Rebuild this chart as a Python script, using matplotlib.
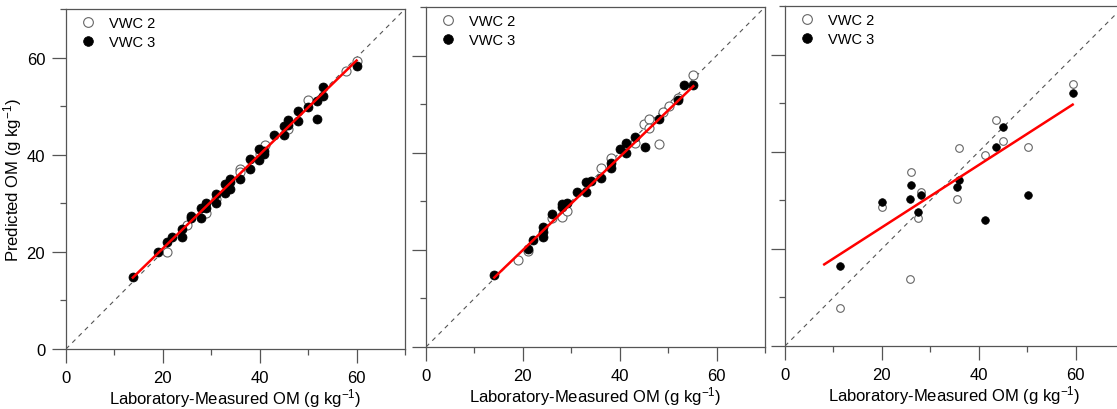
import numpy as np
import matplotlib
matplotlib.use("Agg")
import matplotlib.pyplot as plt

plt.rcParams['font.family'] = ['Liberation Sans', 'DejaVu Sans']
plt.rcParams['mathtext.fontset'] = 'custom'
plt.rcParams['mathtext.rm'] = 'Liberation Sans'
plt.rcParams['mathtext.it'] = 'Liberation Sans:italic'

# --- 資料 ---
# 第一張: VWC 2 (空心) / VWC 3 (實心)
p1_x2 = [20.9, 28.9, 30.9, 35.9, 35.9, 41.0, 45.9, 49.9, 57.9, 60.0, 40.0, 25.0]
p1_y2 = [20.0, 28.0, 30.9, 37.1, 36.4, 42.1, 45.2, 51.2, 57.2, 59.2, 40.2, 25.5]
p1_x3 = [13.8, 18.9, 20.9, 21.9, 23.9, 23.9, 25.9, 25.9, 27.9, 27.9, 28.9, 28.9,
         30.9, 30.9, 32.8, 32.8, 33.9, 33.9, 33.9, 35.9, 37.9, 37.9, 39.9, 39.9,
         40.8, 40.8, 43.0, 45.0, 45.0, 45.9, 45.9, 48.0, 48.0, 49.9, 51.9, 51.9,
         53.0, 53.0, 60.0]
p1_y3 = [14.9, 20.0, 22.0, 23.0, 24.8, 23.0, 27.4, 27.0, 29.1, 26.9, 30.1, 29.0,
         32.0, 30.1, 34.0, 32.1, 35.1, 34.4, 33.0, 35.0, 39.1, 37.0, 41.1, 39.0,
         40.8, 40.1, 44.1, 46.0, 44.1, 47.1, 46.2, 49.1, 47.0, 49.8, 51.1, 47.4,
         54.0, 52.1, 58.3]
p1_fit_x = [13.8, 60.0]
p1_fit_y = [14.7, 59.4]

# 第二張
p2_x2 = [19.0, 21.0, 26.1, 28.1, 29.1, 36.1, 38.1, 43.2, 45.0, 46.1, 46.1, 48.1,
         55.2, 52.1, 50.2, 48.9]
p2_y2 = [17.9, 19.8, 26.6, 26.8, 27.9, 36.9, 38.9, 41.9, 45.9, 46.9, 45.1, 41.7,
         55.9, 51.3, 49.6, 48.3]
p2_x3 = [14.1, 21.0, 22.1, 24.1, 24.1, 24.1, 26.1, 28.1, 28.1, 29.1, 31.1, 33.1,
         33.1, 34.1, 36.1, 38.1, 38.1, 40.1, 41.2, 41.2, 43.2, 45.2, 48.1, 52.1,
         53.2, 55.2]
p2_y3 = [14.8, 20.2, 22.1, 24.8, 23.6, 22.6, 27.3, 29.4, 28.8, 29.6, 31.9, 33.9,
         31.9, 34.2, 34.8, 37.9, 36.9, 40.8, 41.9, 39.9, 43.2, 41.1, 46.9, 50.9,
         53.9, 53.9]
p2_fit_x = [14.1, 55.2]
p2_fit_y = [14.3, 53.7]

# 第三張
p3_x2 = [11.4, 20.0, 25.9, 26.1, 27.4, 28.1, 35.6, 35.9, 41.4, 43.6, 45.0, 50.1, 59.4]
p3_y2 = [7.8, 28.6, 13.7, 35.8, 26.3, 31.7, 30.2, 40.8, 39.4, 46.5, 42.3, 41.0, 53.9]
p3_x3 = [11.4, 20.0, 25.9, 26.1, 27.4, 28.1, 35.6, 35.9, 41.4, 43.6, 45.0, 50.1, 59.4]
p3_y3 = [16.4, 29.7, 30.3, 33.2, 27.6, 31.0, 32.8, 34.1, 26.0, 41.0, 45.0, 31.1, 52.0]
p3_fit_x = [8.1, 59.4]
p3_fit_y = [16.8, 49.7]

panels = [
    (p1_x2, p1_y2, p1_x3, p1_y3, p1_fit_x, p1_fit_y),
    (p2_x2, p2_y2, p2_x3, p2_y3, p2_fit_x, p2_fit_y),
    (p3_x2, p3_y2, p3_x3, p3_y3, p3_fit_x, p3_fit_y),
]

# 位置 (像素 -> 圖的比例)
W, H = 1117, 410
axes_px = [(66, 10, 339, 340), (426, 8, 339, 340), (785, 7, 339, 340)]

fig = plt.figure(figsize=(W / 100, H / 100), dpi=100)

spine_c = '#555555'
for i, (x2, y2, x3, y3, fx, fy) in enumerate(panels):
    l, t, w, h = axes_px[i]
    ax = fig.add_axes([l / W, (H - t - h) / H, w / W, h / H])
    ms = 6.5 if i < 2 else 5.5

    ax.plot([0, 70], [0, 70], ls=(0, (4, 4)), color='#555555', lw=0.8, zorder=1)
    ax.plot(x2, y2, 'o', ms=ms, mfc='white', mec='#666666', mew=0.8,
            ls='none', label='VWC 2', zorder=2)
    ax.plot(x3, y3, 'o', ms=ms, mfc='black', mec='black', mew=0.5,
            ls='none', label='VWC 3', zorder=2)
    ax.plot(fx, fy, color='#ff0000', lw=1.8, zorder=3)

    ax.set_xlim(0, 70)
    ax.set_ylim(0, 70)
    ax.set_xticks([0, 20, 40, 60])
    ax.set_yticks([0, 20, 40, 60])
    ax.set_xticks([10, 30, 50, 70], minor=True)
    ax.set_yticks([10, 30, 50, 70], minor=True)
    ax.tick_params(which='major', direction='out', length=10, width=0.9,
                   color=spine_c, labelsize=12, pad=5)
    ax.tick_params(which='minor', direction='out', length=4.5, width=0.9,
                   color=spine_c)
    if i > 0:
        ax.tick_params(axis='y', labelleft=False)
    for s in ax.spines.values():
        s.set_color(spine_c)
        s.set_linewidth(0.9)

    ax.set_xlabel(r'Laboratory-Measured OM (g kg$^{-1}$)', fontsize=12, labelpad=1)
    if i == 0:
        ax.set_ylabel(r'Predicted OM (g kg$^{-1}$)', fontsize=12, labelpad=2)

    ms_leg = 7.0 / ms
    ax.legend(loc='upper left', frameon=False, fontsize=10.5, handletextpad=0.45,
              borderaxespad=0.2, labelspacing=0.3, markerscale=ms_leg,
              borderpad=0.3, handlelength=2.0)

fig.savefig('out.png', dpi=100)
